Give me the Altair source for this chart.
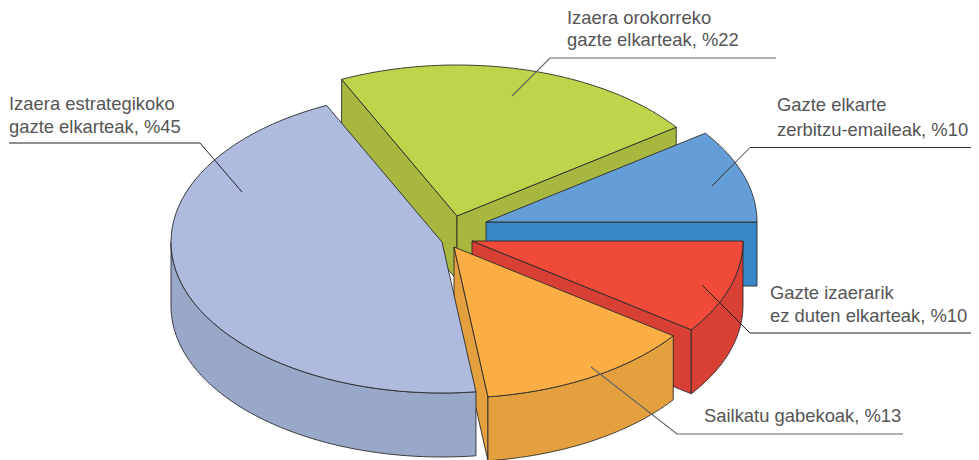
import math
import altair as alt
import pandas as pd

# Shares, going clockwise from the 3 o'clock position
slices = ["Gazte izaerarik", "Sailkatu", "Estrategiko", "Orokorreko", "Zerbitzu"]
shares = [10, 13, 45, 22, 10]
top_colors = ["#f04a38", "#fbae44", "#aebbde", "#bed44a", "#659dd6"]
wall_colors = ["#d94035", "#e4a03e", "#99a7c9", "#a7b73f", "#3a87c8"]
apex_x = [472, 454, 442, 457, 486]
apex_y = [241, 247, 242, 216, 222]

RX, RY, DEPTH = 271, 151, 64
EDGE = "#2b2b2b"

label_lines = [
    ("Izaera estrategikoko", 9, 110), ("gazte elkarteak, %45", 9, 133),
    ("Izaera orokorreko", 567, 24), ("gazte elkarteak, %22", 567, 46),
    ("Gazte elkarte", 777, 111), ("zerbitzu-emaileak, %10", 777, 136),
    ("Gazte izaerarik", 770, 299), ("ez duten elkarteak, %10", 770, 322),
    ("Sailkatu gabekoak, %13", 704, 422),
]
leaders = [
    ([9, 200, 242], [143, 143, 192], "#222222", 1.0),
    ([776, 550, 512], [58, 58, 96], "#666666", 1.2),
    ([971, 750, 712], [147.5, 147.5, 186], "#333333", 1.0),
    ([971, 750, 702], [333, 333, 285], "#222222", 1.0),
    ([903, 677, 591], [434, 434, 367], "#666666", 1.2),
]

X = alt.X("x:Q", scale=alt.Scale(domain=[8, 971], nice=False, zero=False), axis=None)
Y = alt.Y("y:Q", scale=alt.Scale(domain=[460, 8], nice=False, zero=False), axis=None)


def face(pts, fill, sw=0.9):
    pts = list(pts) + [pts[0]]
    df = pd.DataFrame({"x": [p[0] for p in pts], "y": [p[1] for p in pts], "i": range(len(pts))})
    return alt.Chart(df).mark_line(
        fill=fill, stroke=EDGE, strokeWidth=sw, strokeJoin="miter", clip=False
    ).encode(x=X, y=Y, order="i:O")


def rim(cx, cy, a0, a1, dy=0, n=60):
    out = []
    for k in range(n + 1):
        t = math.radians(a0 + (a1 - a0) * k / n)
        out.append((cx + RX * math.cos(t), cy - RY * math.sin(t) + dy))
    return out


angles = {}
acc = 0.0
for name, s in zip(slices, shares):
    angles[name] = (acc, acc - s * 3.6)
    acc -= s * 3.6

layers_by = {}
for name, tc, wc, ax, ay in zip(slices, top_colors, wall_colors, apex_x, apex_y):
    a0, a1 = angles[name]
    layers_by[name] = dict(a0=a0, a1=a1, tc=tc, wc=wc, ax=ax, ay=ay)


def top(name):
    p = layers_by[name]
    return face([(p["ax"], p["ay"])] + rim(p["ax"], p["ay"], p["a0"], p["a1"]), p["tc"])


def outer(name, a0=None, a1=None):
    p = layers_by[name]
    a0 = p["a0"] if a0 is None else a0
    a1 = p["a1"] if a1 is None else a1
    r = rim(p["ax"], p["ay"], a0, a1)
    b = rim(p["ax"], p["ay"], a0, a1, DEPTH)
    return face(r + b[::-1], p["wc"])


def radial(name, ang):
    p = layers_by[name]
    e = rim(p["ax"], p["ay"], ang, ang, n=1)[0]
    ax, ay = p["ax"], p["ay"]
    return face([(ax, ay), e, (e[0], e[1] + DEPTH), (ax, ay + DEPTH)], p["wc"])


G, B, R, O, S = "Orokorreko", "Zerbitzu", "Gazte izaerarik", "Sailkatu", "Estrategiko"
layers = [
    radial(G, layers_by[G]["a0"]), radial(G, layers_by[G]["a1"]), top(G),
    radial(B, 0), top(B),
    radial(R, layers_by[R]["a1"]), outer(R), top(R),
    radial(O, layers_by[O]["a1"]), outer(O),
    outer(S, layers_by[S]["a0"], -180), top(S),
    top(O),
]

for xs, ys, col, sw in leaders:
    df = pd.DataFrame({"x": xs, "y": ys, "i": range(len(xs))})
    layers.append(alt.Chart(df).mark_line(color=col, strokeWidth=sw, clip=False).encode(x=X, y=Y, order="i:O"))

tdf = pd.DataFrame({"t": [l[0] for l in label_lines], "x": [l[1] for l in label_lines], "y": [l[2] for l in label_lines]})
layers.append(
    alt.Chart(tdf).mark_text(
        align="left", baseline="alphabetic", font="Liberation Sans", fontSize=18.4, color="#555555"
    ).encode(x=X, y=Y, text="t:N")
)

chart = alt.layer(*layers).properties(
    width=963, height=452, padding=0, autosize=alt.AutoSizeParams(type="none"), background="white"
).configure_view(stroke=None)

chart.save("out.html", embed_options={"renderer": "svg", "actions": False})
